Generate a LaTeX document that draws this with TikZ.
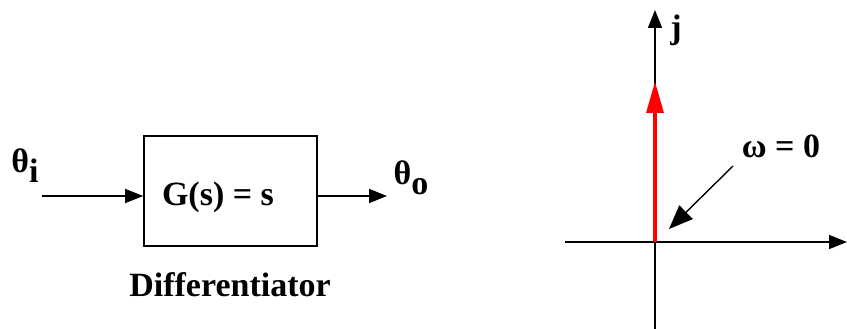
\documentclass[tikz,border=0pt]{standalone}
\usepackage{fontspec}
\setmainfont{Liberation Serif}
\usetikzlibrary{arrows.meta}
\begin{document}
\begin{tikzpicture}[x=1pt,y=-1pt,
  lbl/.style={font=\fontsize{34}{38}\selectfont\bfseries, inner sep=0pt},
  ln/.style={line width=1.6pt, -{Triangle[length=18pt,width=14pt]}}]
\useasboundingbox (0,0) rectangle (847,329);
% block diagram
\node[draw, line width=1.6pt, minimum width=173pt, minimum height=110pt, inner sep=0pt] (box) at (230.5,191) {};
\node[lbl] (g) at (218,197) {G(s) = s};
\node[lbl] (ti) at (25,166) {θ\raisebox{-0.3em}{i}};
\node[lbl] (to) at (411,178) {θ\raisebox{-0.3em}{o}};
\node[lbl] (diff) at (230,285) {Differentiator};
\coordinate (in) at (42,196);
\coordinate (out) at (387,196);
\draw[ln] (in) -- (box.west |- in);
\draw[ln] (box.east |- out) -- (out);
% s-plane
\coordinate (o) at (655,242);
\coordinate (ytop) at (655,10);
\coordinate (ybot) at (655,329);
\coordinate (xl) at (565,242);
\coordinate (xr) at (847,242);
\draw[line width=1.6pt] (ybot) -- (o);
\draw[ln] (o) -- (ytop);
\draw[ln] (xl) -- (xr);
\node[lbl] (j) at (676,30) {j};
\coordinate (rtop) at (655,82);
\draw[line width=4pt, red] (o) -- (655,110);
\fill[red] (rtop) -- (646,113) -- (664,113) -- cycle;
\node[lbl] (w) at (781,146) {ω = 0};
\coordinate (wa) at (733,166);
\coordinate (wb) at (669,229);
\draw[line width=1.4pt, -{Triangle[length=24pt,width=19pt]}] (wa) -- (wb);
\end{tikzpicture}
\end{document}
